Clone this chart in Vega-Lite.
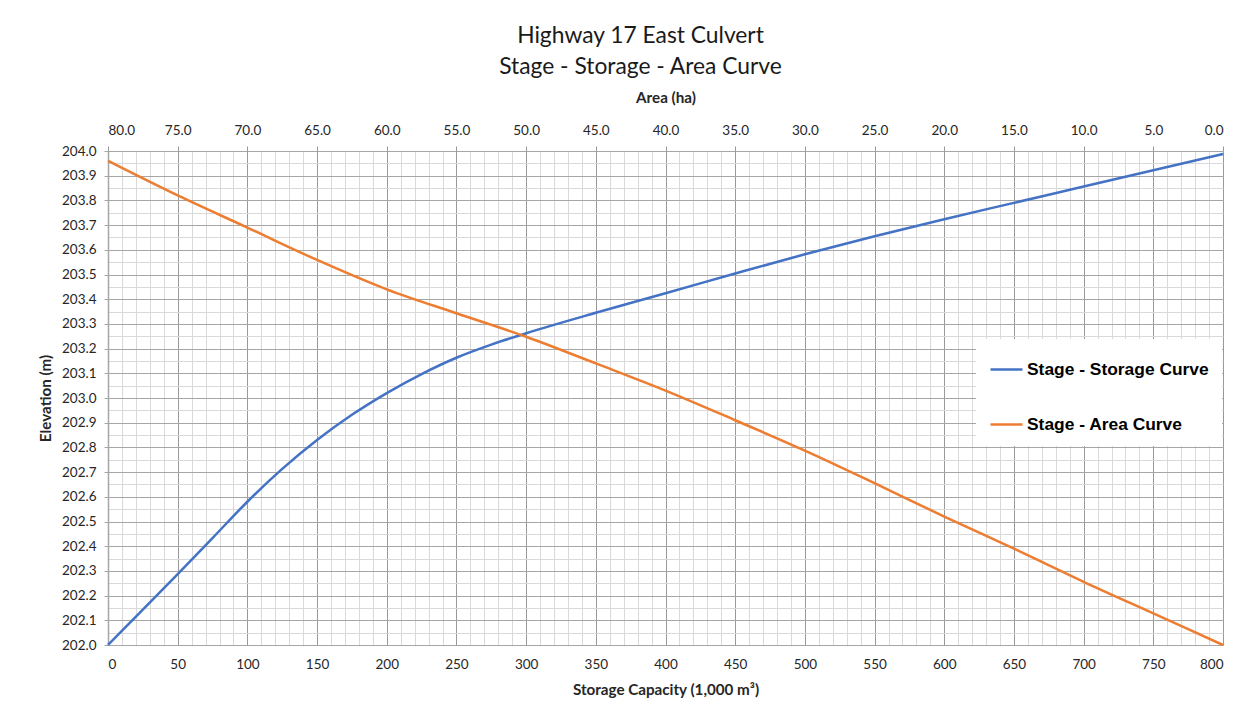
{
  "$schema": "https://vega.github.io/schema/vega-lite/v6.json",
  "width": 1115,
  "height": 494,
  "autosize": {"type": "none"},
  "padding": {"left": 108, "top": 151, "right": 31, "bottom": 59},
  "background": "white",
  "config": {
    "view": {"stroke": null},
    "font": "Lato",
    "axis": {"labelFont": "Lato", "titleFont": "Lato", "labelColor": "#262626", "titleColor": "#262626"}
  },
  "title": {
    "text": ["Highway 17 East Culvert", "Stage - Storage - Area Curve"],
    "font": "Lato",
    "fontSize": 22.8,
    "fontWeight": "normal",
    "color": "#1a1a1a",
    "lineHeight": 31,
    "anchor": "middle",
    "frame": "group",
    "dx": -25,
    "offset": 11
  },
  "datasets": {
    "storage": [
      {"storage": 0, "elev": 202.0},
      {"storage": 25, "elev": 202.143},
      {"storage": 50, "elev": 202.287},
      {"storage": 75, "elev": 202.433},
      {"storage": 100, "elev": 202.58},
      {"storage": 125, "elev": 202.713},
      {"storage": 150, "elev": 202.83},
      {"storage": 175, "elev": 202.932},
      {"storage": 200, "elev": 203.02},
      {"storage": 225, "elev": 203.097},
      {"storage": 250, "elev": 203.163},
      {"storage": 275, "elev": 203.216},
      {"storage": 300, "elev": 203.262},
      {"storage": 350, "elev": 203.345},
      {"storage": 400, "elev": 203.424},
      {"storage": 450, "elev": 203.504},
      {"storage": 500, "elev": 203.582},
      {"storage": 550, "elev": 203.655},
      {"storage": 600, "elev": 203.724},
      {"storage": 650, "elev": 203.79},
      {"storage": 700, "elev": 203.856},
      {"storage": 750, "elev": 203.922},
      {"storage": 800, "elev": 203.988}
    ],
    "area": [
      {"area": 80, "elev": 203.96},
      {"area": 75, "elev": 203.82},
      {"area": 70, "elev": 203.69},
      {"area": 65, "elev": 203.559},
      {"area": 60, "elev": 203.44},
      {"area": 55, "elev": 203.343},
      {"area": 50, "elev": 203.248},
      {"area": 45, "elev": 203.14},
      {"area": 40, "elev": 203.03},
      {"area": 35, "elev": 202.91},
      {"area": 30, "elev": 202.787},
      {"area": 25, "elev": 202.655},
      {"area": 20, "elev": 202.52},
      {"area": 15, "elev": 202.39},
      {"area": 10, "elev": 202.256},
      {"area": 5, "elev": 202.128},
      {"area": 0, "elev": 202.0}
    ]
  },
  "layer": [
    {
      "data": {"name": "storage"},
      "mark": {"type": "line", "opacity": 0},
      "encoding": {
        "x": {
          "field": "storage", "type": "quantitative",
          "scale": {"domain": [0, 800], "nice": false, "zero": false},
          "axis": {
            "orient": "bottom",
            "values": [10,20,30,40,60,70,80,90,110,120,130,140,160,170,180,190,210,220,230,240,260,270,280,290,310,320,330,340,360,370,380,390,410,420,430,440,460,470,480,490,510,520,530,540,560,570,580,590,610,620,630,640,660,670,680,690,710,720,730,740,760,770,780,790],
            "grid": true, "gridColor": "#d9d9d9", "gridWidth": 1,
            "labels": false, "ticks": false, "domain": false, "title": null
          }
        },
        "y": {
          "field": "elev", "type": "quantitative",
          "scale": {"domain": [202, 204], "nice": false, "zero": false},
          "axis": {
            "orient": "left",
            "values": [202.05,202.15,202.25,202.35,202.45,202.55,202.65,202.75,202.85,202.95,203.05,203.15,203.25,203.35,203.45,203.55,203.65,203.75,203.85,203.95],
            "grid": true, "gridColor": "#d9d9d9", "gridWidth": 1,
            "labels": false, "ticks": false, "domain": false, "title": null
          }
        }
      }
    },
    {
      "data": {"name": "storage"},
      "mark": {"type": "line", "strokeWidth": 2.5, "interpolate": "monotone"},
      "encoding": {
        "x": {
          "field": "storage", "type": "quantitative",
          "scale": {"domain": [0, 800], "nice": false, "zero": false},
          "axis": {
            "orient": "bottom",
            "values": [0,50,100,150,200,250,300,350,400,450,500,550,600,650,700,750,800],
            "format": "d",
            "grid": true, "gridColor": "#999999", "gridWidth": 1,
            "ticks": false, "domain": true, "domainColor": "#a6a6a6", "domainWidth": 1,
            "labelFontSize": 13.5, "labelPadding": 12,
            "title": "Storage Capacity (1,000 m³)",
            "titleFontSize": 15.2, "titleFontWeight": "bold", "titlePadding": 12
          }
        },
        "y": {
          "field": "elev", "type": "quantitative",
          "scale": {"domain": [202, 204], "nice": false, "zero": false},
          "axis": {
            "orient": "left",
            "values": [202.0,202.1,202.2,202.3,202.4,202.5,202.6,202.7,202.8,202.9,203.0,203.1,203.2,203.3,203.4,203.5,203.6,203.7,203.8,203.9,204.0],
            "format": ".1f",
            "grid": true, "gridColor": "#a6a6a6", "gridWidth": 1,
            "ticks": true, "tickSize": 4, "tickColor": "#a6a6a6",
            "domain": true, "domainColor": "#a6a6a6", "domainWidth": 1.5,
            "labelFontSize": 13.5, "labelPadding": 8,
            "title": "Elevation (m)",
            "titleFontSize": 15.2, "titleFontWeight": "bold", "titlePadding": 8
          }
        },
        "color": {
          "datum": "Stage - Storage Curve",
          "type": "nominal",
          "scale": {"domain": ["Stage - Storage Curve", "Stage - Area Curve"], "range": ["#4472C4", "#ED7D31"]},
          "legend": {
            "title": null,
            "orient": "none",
            "legendX": 868,
            "legendY": 188,
            "fillColor": "white",
            "padding": 13,
            "symbolType": "stroke",
            "symbolSize": 1024,
            "symbolStrokeWidth": 2.5,
            "labelFont": "Liberation Sans",
            "labelFontSize": 17.4,
            "labelFontWeight": "bold",
            "labelColor": "#000000",
            "labelOffset": 3,
            "labelLimit": 400,
            "rowPadding": 29
          }
        }
      }
    },
    {
      "data": {"name": "area"},
      "mark": {"type": "line", "strokeWidth": 2.5, "interpolate": "monotone"},
      "encoding": {
        "x": {
          "field": "area", "type": "quantitative",
          "scale": {"domain": [0, 80], "reverse": true, "nice": false, "zero": false},
          "axis": {
            "orient": "top",
            "values": [0,5,10,15,20,25,30,35,40,45,50,55,60,65,70,75,80],
            "format": ".1f",
            "grid": false,
            "ticks": true, "tickSize": 5, "tickColor": "#999999",
            "domain": false,
            "labelFontSize": 13.5, "labelPadding": 9,
            "title": "Area (ha)",
            "titleFontSize": 15.2, "titleFontWeight": "bold", "titlePadding": 18
          }
        },
        "y": {
          "field": "elev", "type": "quantitative",
          "scale": {"domain": [202, 204], "nice": false, "zero": false},
          "axis": null
        },
        "color": {"datum": "Stage - Area Curve", "type": "nominal"}
      }
    }
  ],
  "resolve": {"scale": {"x": "independent", "y": "independent"}}
}
